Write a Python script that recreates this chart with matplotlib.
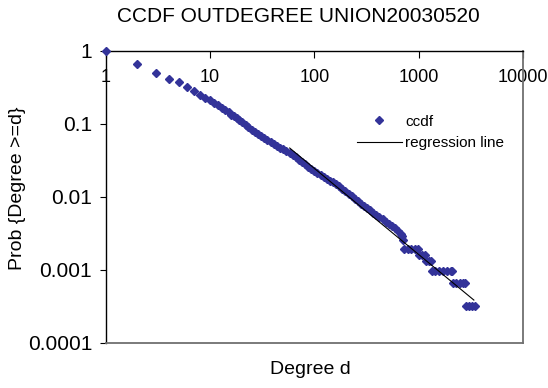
import matplotlib.pyplot as plt
import matplotlib.ticker as ticker

plt.rcParams['font.family'] = ['Liberation Sans', 'DejaVu Sans']

# ccdf of out-degree
degree = [1, 2, 3, 4, 5, 6, 7, 8, 9, 10, 11, 12, 13, 14, 15, 16, 17, 18, 19, 20,
          22, 23, 25, 27, 29, 31, 33, 35, 38, 41, 44, 47, 50, 54, 58, 62, 66, 71,
          76, 81, 87, 93, 100, 107, 115, 123, 132, 141, 151, 162, 174, 186, 199,
          213, 228, 244, 261, 280, 300, 321, 344, 368, 394, 422, 452, 484, 518,
          555, 594, 636, 681, 698, 712,
          730, 790, 850, 920, 990,
          1010, 1080, 1160,
          1180, 1250, 1320,
          1340, 1450, 1580, 1720, 1870, 2030, 2110,
          2130, 2300, 2480, 2660, 2810,
          2830, 3050, 3280, 3510]
ccdf = [1.0, 0.656, 0.50, 0.416, 0.375, 0.32, 0.284, 0.25, 0.229, 0.210, 0.195,
        0.179, 0.165, 0.154, 0.1436, 0.1345, 0.1267, 0.1192, 0.1125, 0.1064,
        0.0962, 0.0917, 0.0838, 0.0773, 0.0722, 0.0679, 0.0641, 0.0607, 0.0565,
        0.0530, 0.0500, 0.0474, 0.0450, 0.0422, 0.0398, 0.0374, 0.0352, 0.0323,
        0.0299, 0.0278, 0.0257, 0.0239, 0.0223, 0.0210, 0.0197, 0.0187, 0.0176,
        0.0167, 0.0158, 0.0149, 0.0140, 0.01300, 0.01200, 0.01108, 0.01022,
        0.00943, 0.00872, 0.00805, 0.00750, 0.00698, 0.00650, 0.00607, 0.00565,
        0.00527, 0.00491, 0.00458, 0.00427, 0.00398, 0.00368, 0.00340, 0.00313,
        0.00288, 0.00256,
        0.00195, 0.00195, 0.00195, 0.00195, 0.00195,
        0.0016, 0.0016, 0.0016,
        0.0013, 0.0013, 0.0013,
        0.00096, 0.00096, 0.00096, 0.00096, 0.00096, 0.00096, 0.00096,
        0.00065, 0.00065, 0.00065, 0.00065, 0.00065,
        0.00032, 0.00032, 0.00032, 0.00032]

reg_degree = [58, 3400]
reg_prob = [0.0467, 0.000384]

fig = plt.figure(figsize=(5.48, 3.88), dpi=100)
ax = fig.add_axes([0.1934, 0.1168, 0.7604, 0.7518])

ax.plot(degree, ccdf, ls='none', marker='D', ms=4.5, color='#333399',
        label='ccdf', clip_on=False, zorder=3)
ax.plot(reg_degree, reg_prob, color='black', lw=0.8, label='regression line',
        zorder=4)

ax.set_xscale('log')
ax.set_yscale('log')
ax.set_xlim(1, 10000)
ax.set_ylim(0.0001, 1)

fmt = ticker.FuncFormatter(lambda v, p: f'{v:g}')
ax.xaxis.set_major_formatter(fmt)
ax.yaxis.set_major_formatter(fmt)
ax.xaxis.set_minor_locator(ticker.NullLocator())
ax.yaxis.set_minor_locator(ticker.NullLocator())

ax.xaxis.set_ticks_position('top')
ax.tick_params(axis='x', direction='in', length=5, labelsize=13, pad=-25,
               labeltop=True, labelbottom=False)
ax.tick_params(axis='y', direction='out', length=4.5, labelsize=15, pad=5.5,
               right=False)

for side in ['left', 'top']:
    ax.spines[side].set_color('black')
    ax.spines[side].set_linewidth(1.0)
for side in ['right', 'bottom']:
    ax.spines[side].set_color('#707070')
    ax.spines[side].set_linewidth(1.3)

fig.text(298 / 548, 1 - 16.5 / 388, 'CCDF OUTDEGREE UNION20030520',
         ha='center', va='center', fontsize=15)
fig.text(310.5 / 548, 1 - 369 / 388, 'Degree d', ha='center', va='center',
         fontsize=14)
fig.text(18 / 548, 1 - 188.5 / 388, 'Prob {Degree >=d}', ha='center',
         va='center', rotation=90, fontsize=14)

ax.legend(loc='center left', bbox_to_anchor=(0.602, 0.72), frameon=False,
          fontsize=11, handlelength=2.95, handletextpad=0.2, borderaxespad=0,
          borderpad=0, labelspacing=0.5, numpoints=1)

fig.savefig('out.png', dpi=100)
